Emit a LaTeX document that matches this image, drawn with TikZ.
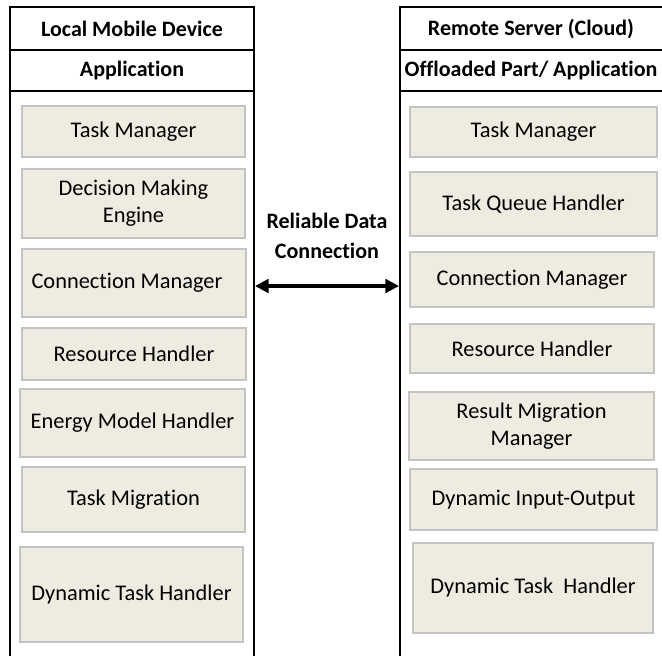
\documentclass[tikz,border=0pt]{standalone}
\usepackage{fontspec}
\setmainfont{Carlito}[Ligatures=NoCommon]
\usetikzlibrary{arrows.meta,positioning}
\definecolor{modFill}{HTML}{EEECE1}
\definecolor{modEdge}{HTML}{C3C3C3}
\tikzset{
  >={Triangle[length=2.4mm,width=2.4mm]},
  head/.style={inner sep=0pt, font=\bfseries\fontsize{11}{13}\selectfont},
  module/.style 2 args={draw=modEdge, line width=0.6pt, fill=modFill,
              minimum width={#1*0.5pt}, minimum height={#2*0.5pt},
              align=center, inner sep=2pt, font=\fontsize{11.2}{13.5}\selectfont},
  frame/.style={draw=black, line width=1pt},
  link/.style={<->, line width=1.6pt},
  lbl/.style={font=\bfseries\fontsize{11}{15}\selectfont, align=center},
}

\begin{document}
\begin{tikzpicture}[x=0.5pt,y=-0.5pt]
    \useasboundingbox (0,0) rectangle (662,655);
    % column frames, open at the bottom
    \draw[frame] (10,656) -- (10,7) -- (254,7) -- (254,656);
    \draw[frame] (10,50) -- (254,50) (10,91) -- (254,91);
    \draw[frame] (400,656) -- (400,7) -- (663,7);
    \draw[frame] (400,50) -- (663,50) (400,91) -- (663,91);
    \node[head] (lTitle) at (132,28.5) {Local Mobile Device};
    \node[head] (lApp)   at (132,70.5) {Application};
    \node[head] (rTitle) at (531,28.5) {Remote Server (Cloud)};
    \node[head] (rApp)   at (531,70.5) {Offloaded Part/ Application};
    % mobile side
    \node[module={223}{51}] (lTask)   at (133.5,131.5) {Task Manager};
    \node[module={223}{69}] (lDecide) at (133.5,203.5) {Decision Making\\Engine};
    \node[module={224}{68}] (lConn)   at (134,283)     {Connection Manager\hspace*{7pt}};
    \node[module={224}{52}] (lRes)    at (134,354)     {Resource Handler};
    \node[module={225}{68}] (lEnergy) at (132.5,423)   {Energy Model Handler};
    \node[module={223}{65}] (lMig)    at (133.5,499.5) {Task Migration};
    \node[module={223}{95}] (lDyn)    at (131.5,594.5) {Dynamic Task Handler};
    % cloud side
    \node[module={247}{50}] (rTask)   at (533.5,132)   {Task Manager};
    \node[module={247}{64}] (rQueue)  at (533.5,204)   {Task Queue Handler};
    \node[module={244}{55}] (rConn)   at (532,279.5)   {Connection Manager};
    \node[module={244}{49}] (rRes)    at (532,348.5)   {Resource Handler};
    \node[module={245}{68}] (rResult) at (531.5,426)   {Result Migration\\Manager};
    \node[module={247}{61}] (rIO)     at (533.5,499.5) {Dynamic Input-Output};
    \node[module={240}{90}] (rDyn)    at (533,588)     {Dynamic Task~ Handler};
    % link between the two sides
    \coordinate (lEdge) at (255,286);
    \coordinate (rEdge) at (399,286);
    \draw[link] (lEdge) -- (rEdge);
    \node[lbl] (linkLbl) at (327,236) {Reliable Data\\Connection};
\end{tikzpicture}
\end{document}
